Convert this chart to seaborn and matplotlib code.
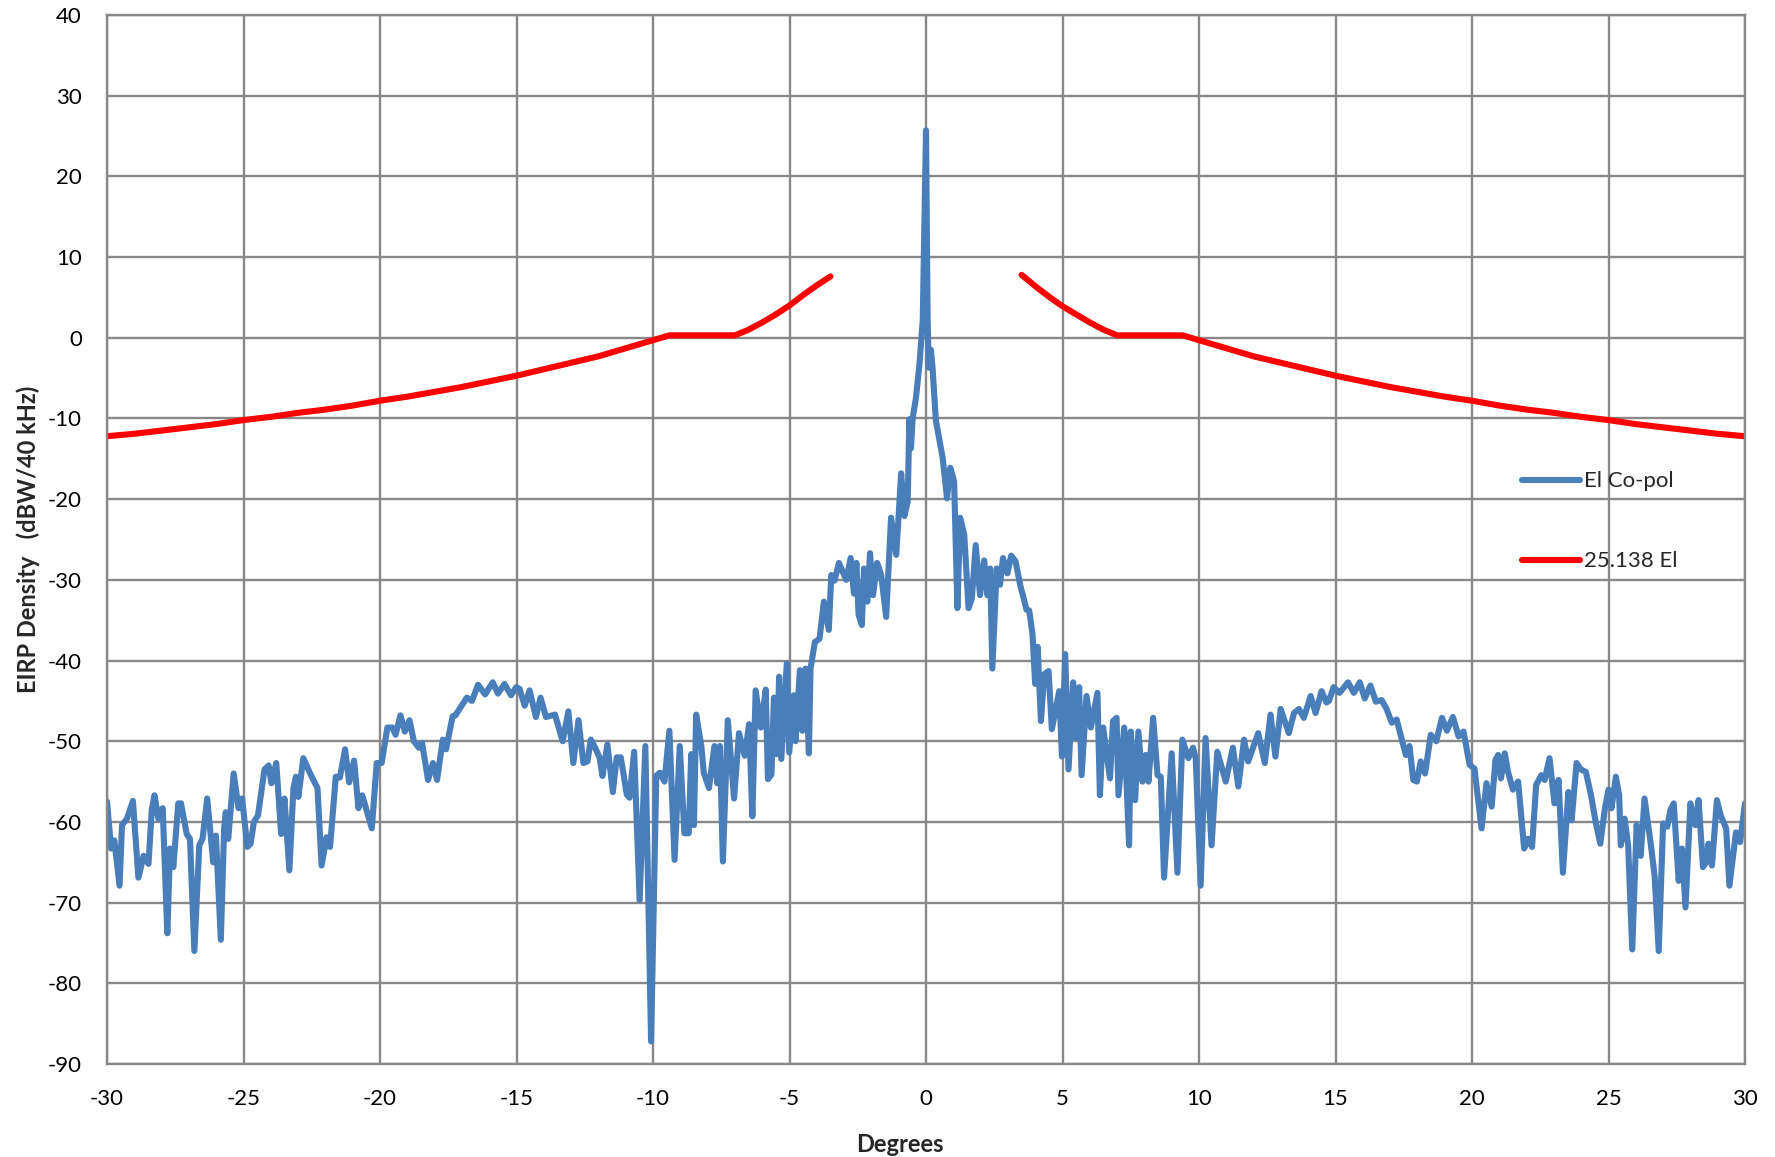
import matplotlib
matplotlib.use("Agg")
import matplotlib.pyplot as plt
from matplotlib.lines import Line2D
import pandas as pd
import seaborn as sns

deg_a = [-30.0, -29.85, -29.73, -29.54, -29.45, -29.27, -29.05, -28.85, -28.66, -28.48,
         -28.36, -28.26, -28.12, -27.96, -27.79, -27.69, -27.57, -27.39, -27.29, -27.08,
         -26.96, -26.80, -26.62, -26.50, -26.33, -26.11, -26.01, -25.83, -25.71, -25.65,
         -25.56, -25.36, -25.18, -25.05, -24.86, -24.74, -24.62, -24.47, -24.23, -24.08,
         -23.98, -23.80, -23.62, -23.50, -23.32, -23.17, -23.08, -22.99, -22.81, -22.53,
         -22.29, -22.14, -21.96, -21.83, -21.62, -21.47, -21.28, -21.13, -20.95, -20.79,
         -20.65, -20.30, -20.12, -19.94, -19.73, -19.55, -19.43, -19.25, -19.09, -18.92,
         -18.76, -18.58, -18.46, -18.24, -18.06, -17.91, -17.70, -17.58, -17.34, -17.24,
         -17.05, -16.82, -16.63, -16.41, -16.15]
val_a = [-57.5, -63.3, -62.3, -67.9, -60.4, -59.6, -57.4, -66.9, -64.2, -65.2,
         -58.5, -56.7, -59.6, -58.3, -73.8, -63.3, -65.6, -57.7, -57.7, -61.5,
         -62.1, -76.0, -62.9, -62.1, -57.1, -65.0, -61.7, -74.6, -60.8, -58.8,
         -62.1, -54.0, -58.3, -57.1, -63.1, -62.7, -60.0, -59.2, -53.5, -53.0,
         -55.2, -52.7, -61.5, -57.1, -66.0, -55.8, -54.4, -56.9, -52.1, -54.2,
         -55.8, -65.4, -61.9, -63.1, -54.4, -54.5, -51.0, -55.1, -52.4, -58.3,
         -56.7, -60.8, -52.7, -52.7, -48.3, -48.3, -49.2, -46.8, -48.8, -47.4,
         -50.0, -50.8, -50.2, -54.8, -52.7, -54.8, -49.8, -51.0, -46.9, -46.8,
         -45.8, -44.6, -45.0, -43.0, -44.2]

deg_b = [-15.87, -15.68, -15.44, -15.20, -15.01, -14.89, -14.70, -14.52, -14.29, -14.12,
         -13.92, -13.59, -13.31, -13.10, -12.92, -12.73, -12.55, -12.40, -12.28, -12.12,
         -11.96, -11.85, -11.67, -11.47, -11.33, -11.18, -10.96, -10.86, -10.69, -10.49,
         -10.28, -10.07, -9.88, -9.75, -9.58, -9.40, -9.21, -9.02, -8.85, -8.69,
         -8.60, -8.50, -8.42, -8.23, -8.14, -7.95, -7.75, -7.65, -7.55, -7.44,
         -7.26, -7.03, -6.85, -6.64, -6.48, -6.36, -6.24, -6.05, -5.87, -5.79,
         -5.66, -5.57, -5.47, -5.38, -5.30, -5.10, -5.01]
val_b = [-42.7, -44.1, -42.9, -44.3, -43.3, -43.5, -45.6, -43.7, -47.0, -44.6,
         -47.0, -46.7, -50.0, -46.3, -52.7, -47.4, -52.7, -52.5, -49.8, -50.8,
         -52.0, -54.3, -50.4, -56.3, -52.0, -52.0, -56.6, -57.0, -51.3, -69.7,
         -50.6, -87.2, -54.3, -53.9, -55.0, -48.7, -64.7, -50.6, -61.4, -61.4,
         -51.6, -60.4, -46.7, -50.6, -53.9, -55.8, -50.6, -55.2, -50.6, -64.9,
         -47.4, -57.1, -49.0, -51.8, -47.9, -59.3, -43.7, -48.3, -43.6, -54.7,
         -54.1, -44.6, -51.6, -42.0, -52.2, -40.4, -51.4]

deg_c = [-4.84, -4.78, -4.62, -4.53, -4.41, -4.29, -4.23, -4.07, -3.90, -3.74,
         -3.56, -3.47, -3.35, -3.19]
val_c = [-44.3, -50.0, -41.2, -48.7, -41.0, -51.5, -41.0, -37.7, -37.3, -32.7,
         -36.2, -29.4, -30.1, -27.9]

deg_d = [-2.92, -2.76, -2.64, -2.55, -2.47, -2.35, -2.27, -2.15, -2.05, -1.94,
         -1.79, -1.64, -1.46, -1.28, -1.09, -0.91, -0.79, -0.67, -0.61, -0.55,
         -0.49, -0.37, -0.24, -0.12, 0.0]
val_d = [-30.0, -27.3, -31.7, -27.9, -34.3, -35.6, -28.6, -32.7, -26.7, -31.9,
         -27.9, -29.4, -34.6, -22.3, -26.9, -16.8, -22.1, -20.3, -10.1, -13.7,
         -10.0, -7.5, -3.3, 2.1, 25.7]

deg_e = [0.06, 0.10, 0.18, 0.24, 0.36, 0.61, 0.77, 0.89, 1.03, 1.15,
         1.25, 1.40, 1.56, 1.68, 1.82, 1.98, 2.13, 2.25, 2.35, 2.43,
         2.59, 2.71, 2.82, 2.98, 3.12, 3.28, 3.46, 3.58, 3.68]
val_e = [2.1, -3.7, -1.5, -3.7, -10.2, -14.9, -19.9, -16.1, -17.8, -33.5,
         -22.3, -24.4, -33.5, -32.3, -25.7, -31.9, -27.6, -31.9, -28.6, -41.0,
         -28.6, -30.6, -27.3, -29.2, -27.0, -27.7, -30.8, -32.3, -33.7]

deg_f = [3.78, 3.90, 4.00, 4.09, 4.21, 4.33, 4.49, 4.61, 4.88, 4.98,
         5.10, 5.22, 5.39, 5.49, 5.61, 5.70, 5.88, 6.04, 6.28, 6.37,
         6.49, 6.74, 6.85, 6.98, 7.05, 7.26, 7.44, 7.50, 7.66, 7.78,
         7.93, 8.05, 8.15, 8.32, 8.48, 8.60, 8.72, 9.00, 9.21, 9.39,
         9.61, 9.78, 9.88, 10.06, 10.24, 10.46, 10.67, 10.98, 11.24, 11.44,
         11.65, 11.80, 12.17, 12.41, 12.62, 12.80, 12.99, 13.29, 13.48, 13.66,
         13.84, 14.09, 14.27, 14.49, 14.67]
val_f = [-33.8, -36.7, -42.9, -38.3, -47.5, -41.7, -41.3, -48.5, -43.8, -51.9,
         -39.2, -53.5, -42.7, -49.6, -43.3, -54.2, -44.4, -48.3, -44.0, -56.7,
         -48.3, -54.6, -47.5, -47.1, -56.7, -48.3, -62.9, -48.8, -57.3, -48.8,
         -55.0, -51.7, -55.0, -47.1, -54.2, -54.4, -66.9, -51.5, -66.3, -49.8,
         -52.1, -50.8, -52.1, -67.9, -49.6, -62.9, -51.3, -55.0, -50.8, -55.6,
         -49.8, -52.5, -49.0, -52.7, -46.7, -51.9, -46.0, -49.0, -46.5, -46.0,
         -47.1, -44.4, -46.5, -43.8, -45.2]

deg_g = [14.76, 14.93, 15.15, 15.46, 15.67, 15.89, 16.07, 16.28, 16.48, 16.69,
         16.87, 17.06, 17.24, 17.46, 17.58, 17.71, 17.85, 17.98, 18.12, 18.28,
         18.49, 18.69, 18.90, 19.08, 19.30, 19.51, 19.69, 19.91, 20.09]
val_g = [-45.0, -43.3, -44.0, -42.7, -44.0, -42.7, -44.7, -43.1, -45.1, -44.9,
         -46.0, -47.7, -47.3, -50.2, -51.7, -50.6, -54.8, -55.0, -52.5, -54.0,
         -49.2, -50.0, -47.1, -48.7, -47.0, -49.4, -48.8, -52.9, -53.4]

deg_h = [20.35, 20.53, 20.72, 20.86, 20.96, 21.06, 21.20, 21.32, 21.50, 21.69,
         21.91, 22.05, 22.20, 22.35, 22.54, 22.66, 22.84, 23.02, 23.17, 23.33,
         23.53, 23.65, 23.83, 23.99, 24.17, 24.36, 24.54, 24.70, 24.87, 25.00,
         25.11, 25.27, 25.39, 25.45, 25.59, 25.72, 25.87, 26.03, 26.18, 26.32,
         26.54, 26.69, 26.84, 27.00, 27.15, 27.27, 27.39, 27.57, 27.69, 27.82,
         28.00, 28.18, 28.30, 28.46, 28.58, 28.66, 28.79, 28.97, 29.11, 29.31,
         29.43, 29.67, 29.82, 30.00]
val_h = [-60.8, -55.2, -58.1, -52.3, -51.7, -54.6, -51.5, -53.8, -56.0, -55.0,
         -63.3, -62.1, -63.1, -55.4, -54.2, -54.8, -52.1, -57.7, -54.8, -66.3,
         -56.3, -59.8, -52.7, -53.5, -53.8, -56.7, -60.2, -62.7, -58.3, -56.0,
         -58.3, -54.4, -56.7, -62.9, -59.6, -62.9, -75.8, -60.4, -64.2, -57.1,
         -62.5, -66.7, -76.0, -60.2, -60.6, -58.5, -57.7, -67.3, -63.3, -70.6,
         -57.7, -60.4, -57.3, -65.6, -65.0, -62.7, -65.4, -57.3, -59.2, -60.8,
         -67.9, -61.3, -62.5, -57.7]

# 25.138 El mask, two branches
mask_deg_l = [-30, -29, -28, -27, -26, -25, -24, -23, -22, -21, -20, -19, -18, -17, -16,
              -15, -14, -13, -12, -11, -10, -9.4, -7.0, -6.5, -6.0, -5.5, -5.0, -4.5, -4.0, -3.5]
mask_val_l = [-12.2, -11.9, -11.5, -11.1, -10.7, -10.2, -9.8, -9.3, -8.9, -8.4, -7.8, -7.3,
              -6.7, -6.1, -5.4, -4.7, -3.9, -3.1, -2.3, -1.3, -0.3, 0.3, 0.3, 1.0, 1.9,
              2.9, 4.0, 5.3, 6.5, 7.6]
mask_deg_r = [3.5, 4.0, 4.5, 5.0, 5.5, 6.0, 6.5, 7.0, 9.4, 10, 11, 12, 13, 14, 15,
              16, 17, 18, 19, 20, 21, 22, 23, 24, 25, 26, 27, 28, 29, 30]
mask_val_r = [7.8, 6.4, 5.1, 3.9, 2.9, 1.9, 1.0, 0.3, 0.3, -0.3, -1.3, -2.3, -3.1, -3.9,
              -4.7, -5.4, -6.1, -6.7, -7.3, -7.8, -8.4, -8.9, -9.3, -9.8, -10.2, -10.7,
              -11.1, -11.5, -11.9, -12.2]

x_ticks = list(range(-30, 31, 5))
y_ticks = list(range(-90, 41, 10))

copol = pd.DataFrame({
    "deg": deg_a + deg_b + deg_c + deg_d + deg_e + deg_f + deg_g + deg_h,
    "eirp": val_a + val_b + val_c + val_d + val_e + val_f + val_g + val_h,
})
mask = pd.DataFrame({
    "deg": mask_deg_l + mask_deg_r,
    "eirp": mask_val_l + mask_val_r,
    "side": ["L"] * len(mask_deg_l) + ["R"] * len(mask_deg_r),
})

BLUE = "#4A7EBB"
GRID = "#888888"

sns.set_theme(style="white")
plt.rcParams["font.family"] = ["Lato", "DejaVu Sans"]
plt.rcParams["axes.unicode_minus"] = False

fig = plt.figure(figsize=(17.75, 11.57), dpi=100)
ax = fig.add_axes([107 / 1775, 93 / 1157, 1638 / 1775, 1049 / 1157])

sns.lineplot(data=copol, x="deg", y="eirp", sort=False, estimator=None,
             color=BLUE, lw=4.4, solid_joinstyle="round", solid_capstyle="round", ax=ax)
sns.lineplot(data=mask, x="deg", y="eirp", units="side", estimator=None,
             color="#FF0000", lw=4.4, solid_joinstyle="round", solid_capstyle="round", ax=ax)

ax.set_xlim(-30, 30)
ax.set_ylim(-90, 40)
ax.set_xticks(x_ticks)
ax.set_yticks(y_ticks)
ax.grid(True, color=GRID, lw=1.7)
ax.set_axisbelow(True)
for sp in ax.spines.values():
    sp.set_color(GRID)
    sp.set_linewidth(1.7)
ax.tick_params(length=0, pad=18, labelsize=16, colors="black")

ax.set_xlabel("Degrees", fontsize=17, fontweight="bold")
ax.set_ylabel("EIRP Density   (dBW/40 kHz)", fontsize=17, fontweight="bold")
ax.xaxis.set_label_coords(0.484, -0.066)
ax.yaxis.set_label_coords(-0.041, 0.5)

handles = [Line2D([], [], color=BLUE, lw=4.4, solid_capstyle="round"),
           Line2D([], [], color="#FF0000", lw=4.4, solid_capstyle="round")]
ax.legend(handles, ["El Co-pol", "25.138 El"], loc="upper left",
          bbox_to_anchor=(0.864, 0.565), frameon=False, fontsize=16,
          handlelength=2.6, handletextpad=0.2, labelspacing=2.7,
          borderpad=0, borderaxespad=0)

fig.savefig("out.png", dpi=100)
